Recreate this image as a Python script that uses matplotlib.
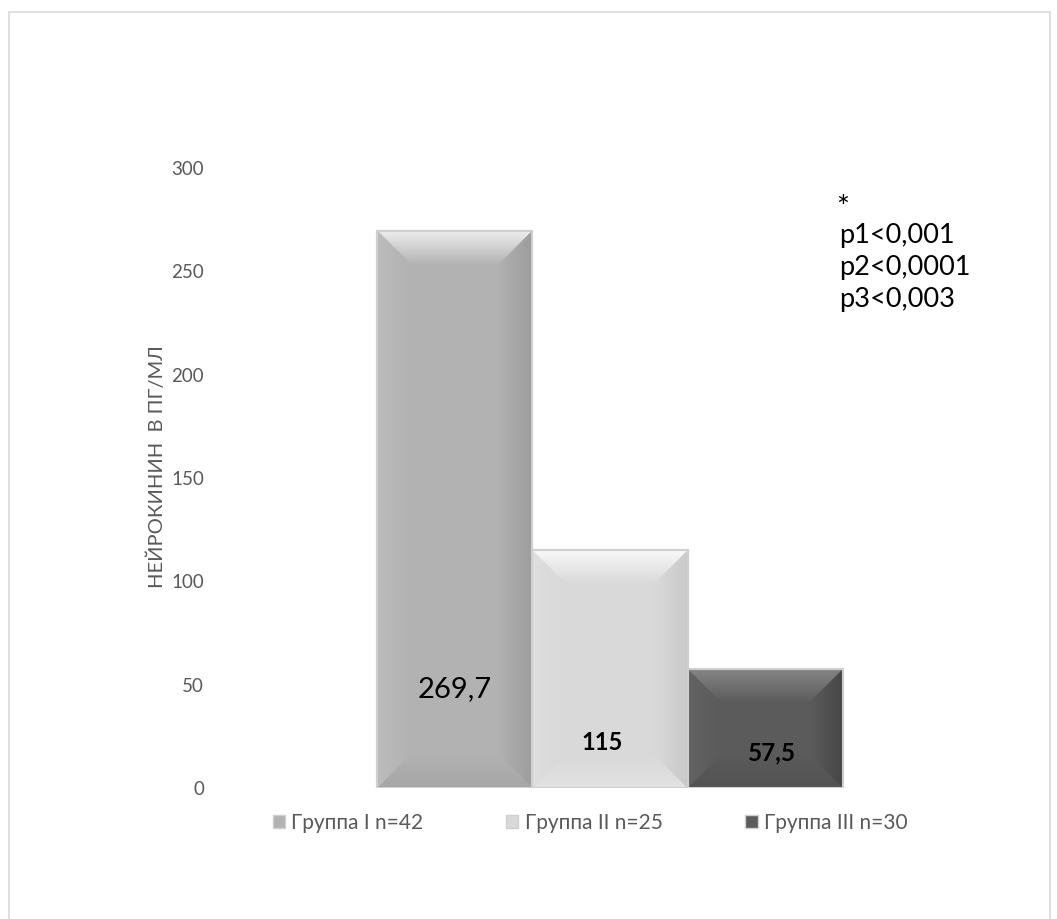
import numpy as np
import matplotlib
matplotlib.use("Agg")
import matplotlib.pyplot as plt
from matplotlib.patches import Polygon, Rectangle, Patch
from matplotlib.colors import to_rgb

plt.rcParams['font.family'] = ['Lato', 'DejaVu Sans']

# Data
groups = ["Группа I n=42", "Группа II n=25", "Группа III n=30"]
values = [269.7, 115, 57.5]
value_labels = ["269,7", "115", "57,5"]
y_ticks = [0, 50, 100, 150, 200, 250, 300]
p_values = ["p1<0,001", "p2<0,0001", "p3<0,003"]

face_colors = ["#b2b2b2", "#d9d9d9", "#5b5b5b"]
top_colors = ["#ececec", "#f8f8f8", "#858585"]
right_colors = ["#9c9c9c", "#c9c9c9", "#474747"]
left_colors = ["#bcbcbc", "#dedede", "#626262"]
bottom_colors = ["#a6a6a6", "#e2e2e2", "#525252"]

W, H = 1057, 919
fig = plt.figure(figsize=(W / 100, H / 100), dpi=100)

# outer frame of the chart area
frame = Rectangle((9 / W, -0.01), (1050 - 9) / W, (H - 12) / H + 0.01,
                  transform=fig.transFigure, fill=False,
                  edgecolor="#d9d9d9", linewidth=1.2)
fig.patches.append(frame)

ax_left, ax_right = 222, 998
ax_top, ax_bottom = 168, 788
ax = fig.add_axes([ax_left / W, (H - ax_bottom) / H,
                   (ax_right - ax_left) / W, (ax_bottom - ax_top) / H])
ax.set_xlim(-2.5, 2.5)
ax.set_ylim(0, 300)
for s in ax.spines.values():
    s.set_visible(False)
ax.set_xticks([])
ax.set_yticks(y_ticks)
ax.set_yticklabels([str(t) for t in y_ticks])
ax.tick_params(axis='y', length=0, pad=13, labelsize=13.5, labelcolor="#595959")
ax.set_ylabel("НЕЙРОКИНИН  В ПГ/МЛ", fontsize=14.5, color="#595959")
ax.yaxis.set_label_coords((166 - ax_left) / (ax_right - ax_left),
                          (ax_bottom - 467) / (ax_bottom - ax_top))

xs = [-1, 0, 1]
bw = 1.0

# pixel-to-data scale for bevel size
px_x = (2.5 * 2) / (ax_right - ax_left)
px_y = 300 / (ax_bottom - ax_top)


def grad_fill(ax, poly_pts, c_from, c_to, direction, extent):
    """Fill a polygon with a linear gradient via a clipped image."""
    c1 = np.array(to_rgb(c_from))
    c2 = np.array(to_rgb(c_to))
    n = 64
    t = np.linspace(0, 1, n)
    if direction == "v":  # c_from at top, c_to at bottom
        arr = (c1[None, :] * (1 - t[:, None]) + c2[None, :] * t[:, None])[:, None, :]
    else:  # c_from at left, c_to at right
        arr = (c1[None, :] * (1 - t[:, None]) + c2[None, :] * t[:, None])[None, :, :]
    poly = Polygon(poly_pts, closed=True, facecolor="none", edgecolor="none")
    ax.add_patch(poly)
    im = ax.imshow(arr, extent=extent, aspect="auto", interpolation="bilinear",
                   origin="upper", zorder=2)
    im.set_clip_path(poly)


for i, (x, v) in enumerate(zip(xs, values)):
    x0, x1 = x - bw / 2, x + bw / 2
    y0, y1 = 0, v
    bev = min(34, 0.5 * (v / px_y) - 2)
    dx, dy = bev * px_x, bev * px_y
    ax.bar(x, v, width=bw, color=face_colors[i], edgecolor="#cfcfcf",
           linewidth=1.5, zorder=1)
    # top bevel
    grad_fill(ax, [(x0, y1), (x1, y1), (x1 - dx, y1 - dy), (x0 + dx, y1 - dy)],
              top_colors[i], face_colors[i], "v", (x0, x1, y1 - dy, y1))
    # bottom bevel
    grad_fill(ax, [(x0, y0), (x1, y0), (x1 - dx, y0 + dy), (x0 + dx, y0 + dy)],
              face_colors[i], bottom_colors[i], "v", (x0, x1, y0, y0 + dy))
    # left bevel
    grad_fill(ax, [(x0, y0), (x0, y1), (x0 + dx, y1 - dy), (x0 + dx, y0 + dy)],
              left_colors[i], face_colors[i], "h", (x0, x0 + dx, y0, y1))
    # right bevel
    grad_fill(ax, [(x1, y0), (x1, y1), (x1 - dx, y1 - dy), (x1 - dx, y0 + dy)],
              face_colors[i], right_colors[i], "h", (x1 - dx, x1, y0, y1))
    ax.add_patch(Rectangle((x0, y0), bw, v, fill=False, edgecolor="#cfcfcf",
                           linewidth=1.5, zorder=3))

ax.set_xlim(-2.5, 2.5)
ax.set_ylim(0, 300)

# value labels inside the bars
ax.text(xs[0], 48, value_labels[0], fontsize=21, color="black",
        ha="center", va="center", zorder=5)
ax.text(xs[1] - 0.05, 22, value_labels[1], fontsize=17, fontweight="bold",
        color="black", ha="center", va="center", zorder=5)
ax.text(xs[2] + 0.04, 17, value_labels[2], fontsize=17.5, fontweight="bold",
        color="black", ha="center", va="center", zorder=5)

# significance notes
fig.text(836 / W, 1 - 222 / H, "*", fontsize=22, color="black",
         ha="left", va="bottom")
for k, s in enumerate(p_values):
    fig.text(839 / W, 1 - (235 + 32 * k) / H, s, fontsize=19.5, color="black",
             ha="left", va="center")

handles = [Patch(facecolor=face_colors[i], edgecolor="#cfcfcf", label=groups[i])
           for i in range(3)]
leg = fig.legend(handles=handles, loc="center", bbox_to_anchor=(590 / W, 1 - 823 / H),
                 ncol=3, frameon=False, fontsize=15, handlelength=0.6,
                 handleheight=0.6, handletextpad=0.3, columnspacing=3.96,
                 labelcolor="#595959")

fig.savefig("out.png", dpi=100, facecolor="white")
